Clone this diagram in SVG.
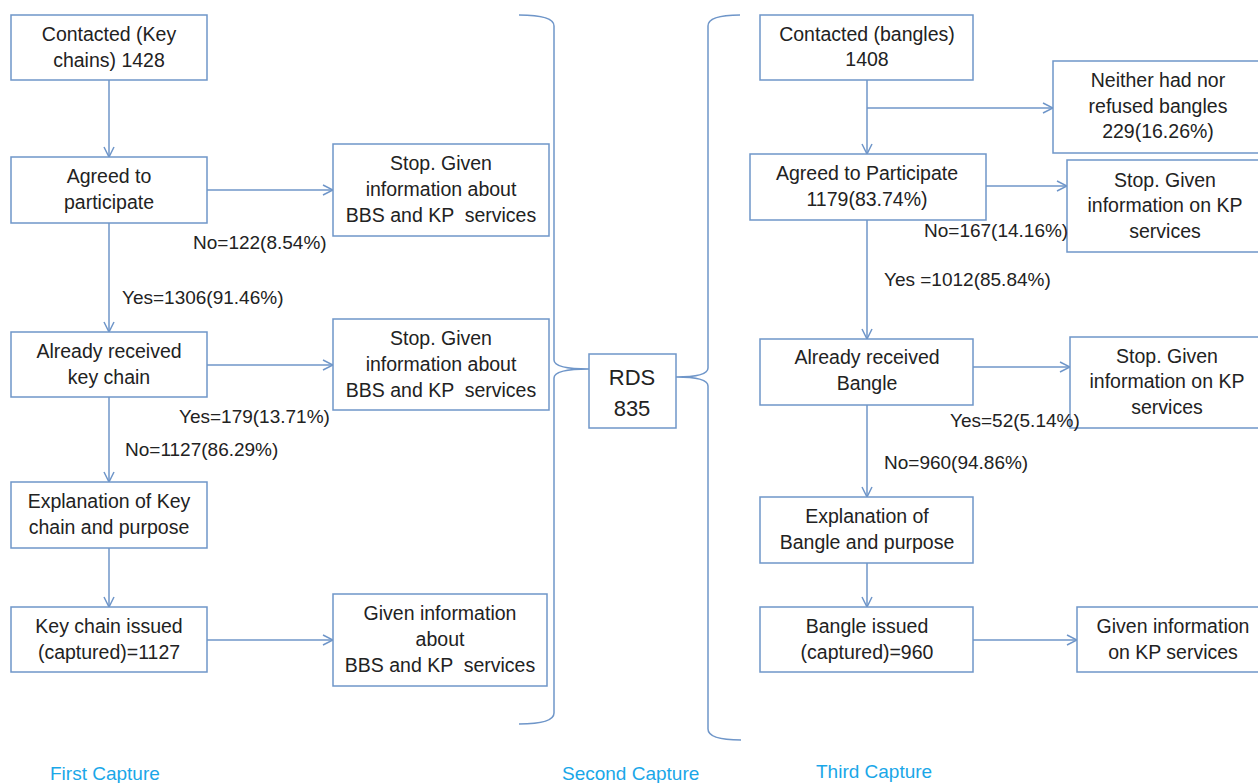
<svg xmlns="http://www.w3.org/2000/svg" width="1258" height="783" viewBox="0 0 1258 783">
<style>
.box{fill:#fff;stroke:#6f96c9;stroke-width:1.5}
.ln{fill:none;stroke:#6f96c9;stroke-width:1.5}
.t{font-family:"Liberation Sans",Arial,sans-serif;font-size:19.5px;fill:#222;text-anchor:middle}
.lb{font-family:"Liberation Sans",Arial,sans-serif;font-size:19px;fill:#222}
.cap{font-family:"Liberation Sans",Arial,sans-serif;font-size:19px;fill:#1aa7e8}
</style>
<defs>
<marker id="ah" markerWidth="12" markerHeight="12" refX="11" refY="6" orient="auto" markerUnits="userSpaceOnUse">
<path d="M1,1 L11,6 L1,11" fill="none" stroke="#6f96c9" stroke-width="1.5"/>
</marker>
</defs>
<rect width="1258" height="783" fill="#fff"/>
<g id="connectors">
<line class="ln" x1="109" y1="80" x2="109" y2="157" marker-end="url(#ah)"/>
<line class="ln" x1="207" y1="190" x2="333" y2="190" marker-end="url(#ah)"/>
<line class="ln" x1="109" y1="223" x2="109" y2="332" marker-end="url(#ah)"/>
<line class="ln" x1="207" y1="365" x2="333" y2="365" marker-end="url(#ah)"/>
<line class="ln" x1="109" y1="397" x2="109" y2="482" marker-end="url(#ah)"/>
<line class="ln" x1="109" y1="548" x2="109" y2="607" marker-end="url(#ah)"/>
<line class="ln" x1="207" y1="640" x2="333" y2="640" marker-end="url(#ah)"/>
<path class="ln" d="M519,15 Q554,15 554,26 L554,360 Q554,369 589,369 Q554,369 554,378 L554,713 Q554,724 519,724"/>
<path class="ln" d="M740,15 Q708,15 708,26 L708,368 Q708,377 676,377 Q708,377 708,386 L708,729 Q708,740 741,740"/>
<line class="ln" x1="867" y1="80" x2="867" y2="154" marker-end="url(#ah)"/>
<line class="ln" x1="867" y1="108" x2="1053" y2="108" marker-end="url(#ah)"/>
<line class="ln" x1="986" y1="186" x2="1067" y2="186" marker-end="url(#ah)"/>
<line class="ln" x1="867" y1="220" x2="867" y2="339" marker-end="url(#ah)"/>
<line class="ln" x1="973" y1="367" x2="1070" y2="367" marker-end="url(#ah)"/>
<line class="ln" x1="867" y1="405" x2="867" y2="497" marker-end="url(#ah)"/>
<line class="ln" x1="867" y1="563" x2="867" y2="607" marker-end="url(#ah)"/>
<line class="ln" x1="973" y1="640" x2="1077" y2="640" marker-end="url(#ah)"/>
</g>
<g id="n1"><rect class="box" x="11" y="15" width="196" height="65"/><text class="t" x="109" y="41">Contacted (Key</text><text class="t" x="109" y="67">chains) 1428</text></g>
<g id="n2"><rect class="box" x="11" y="157" width="196" height="66"/><text class="t" x="109" y="183">Agreed to</text><text class="t" x="109" y="209">participate</text></g>
<g id="n3"><rect class="box" x="333" y="144" width="216" height="92"/><text class="t" x="441" y="170">Stop. Given</text><text class="t" x="441" y="196">information about</text><text class="t" x="441" y="222" xml:space="preserve">BBS and KP  services</text></g>
<g id="n4"><rect class="box" x="11" y="332" width="196" height="65"/><text class="t" x="109" y="358">Already received</text><text class="t" x="109" y="384">key chain</text></g>
<g id="n5"><rect class="box" x="333" y="319" width="216" height="91"/><text class="t" x="441" y="345">Stop. Given</text><text class="t" x="441" y="371">information about</text><text class="t" x="441" y="397" xml:space="preserve">BBS and KP  services</text></g>
<g id="n6"><rect class="box" x="11" y="482" width="196" height="66"/><text class="t" x="109" y="508">Explanation of Key</text><text class="t" x="109" y="534">chain and purpose</text></g>
<g id="n7"><rect class="box" x="11" y="607" width="196" height="65"/><text class="t" x="109" y="633">Key chain issued</text><text class="t" x="109" y="659">(captured)=1127</text></g>
<g id="n8"><rect class="box" x="333" y="594" width="214" height="92"/><text class="t" x="440" y="620">Given information</text><text class="t" x="440" y="646">about</text><text class="t" x="440" y="672" xml:space="preserve">BBS and KP  services</text></g>
<g id="rds"><rect class="box" x="589" y="354" width="87" height="74"/><text class="t" x="632" y="385" style="font-size:22px">RDS</text><text class="t" x="632" y="416" style="font-size:22px">835</text></g>
<g id="m1"><rect class="box" x="760" y="15" width="213" height="65"/><text class="t" x="867" y="41">Contacted (bangles)</text><text class="t" x="867" y="66">1408</text></g>
<g id="m2"><rect class="box" x="1053" y="61" width="210" height="92"/><text class="t" x="1158" y="87">Neither had nor</text><text class="t" x="1158" y="113">refused bangles</text><text class="t" x="1158" y="138">229(16.26%)</text></g>
<g id="m3"><rect class="box" x="750" y="154" width="236" height="66"/><text class="t" x="867" y="180">Agreed to Participate</text><text class="t" x="867" y="206">1179(83.74%)</text></g>
<g id="m4"><rect class="box" x="1067" y="160" width="196" height="92"/><text class="t" x="1165" y="187">Stop. Given</text><text class="t" x="1165" y="212">information on KP</text><text class="t" x="1165" y="238">services</text></g>
<g id="m5"><rect class="box" x="760" y="339" width="213" height="66"/><text class="t" x="867" y="364">Already received</text><text class="t" x="867" y="390">Bangle</text></g>
<g id="m6"><rect class="box" x="1070" y="337" width="193" height="91"/><text class="t" x="1167" y="363">Stop. Given</text><text class="t" x="1167" y="388">information on KP</text><text class="t" x="1167" y="414">services</text></g>
<g id="m7"><rect class="box" x="760" y="497" width="213" height="66"/><text class="t" x="867" y="523">Explanation of</text><text class="t" x="867" y="549">Bangle and purpose</text></g>
<g id="m8"><rect class="box" x="760" y="607" width="213" height="65"/><text class="t" x="867" y="633">Bangle issued</text><text class="t" x="867" y="659">(captured)=960</text></g>
<g id="m9"><rect class="box" x="1077" y="607" width="186" height="65"/><text class="t" x="1173" y="633">Given information</text><text class="t" x="1173" y="659">on KP services</text></g>
<g id="labels">
<text class="lb" x="193" y="249">No=122(8.54%)</text>
<text class="lb" x="122" y="304">Yes=1306(91.46%)</text>
<text class="lb" x="179" y="423">Yes=179(13.71%)</text>
<text class="lb" x="125" y="456">No=1127(86.29%)</text>
<text class="lb" x="924" y="237">No=167(14.16%)</text>
<text class="lb" x="884" y="286">Yes =1012(85.84%)</text>
<text class="lb" x="950" y="427">Yes=52(5.14%)</text>
<text class="lb" x="884" y="469">No=960(94.86%)</text>
<text class="cap" x="50" y="780">First Capture</text>
<text class="cap" x="562" y="780">Second Capture</text>
<text class="cap" x="816" y="778">Third Capture</text>
</g>
</svg>
